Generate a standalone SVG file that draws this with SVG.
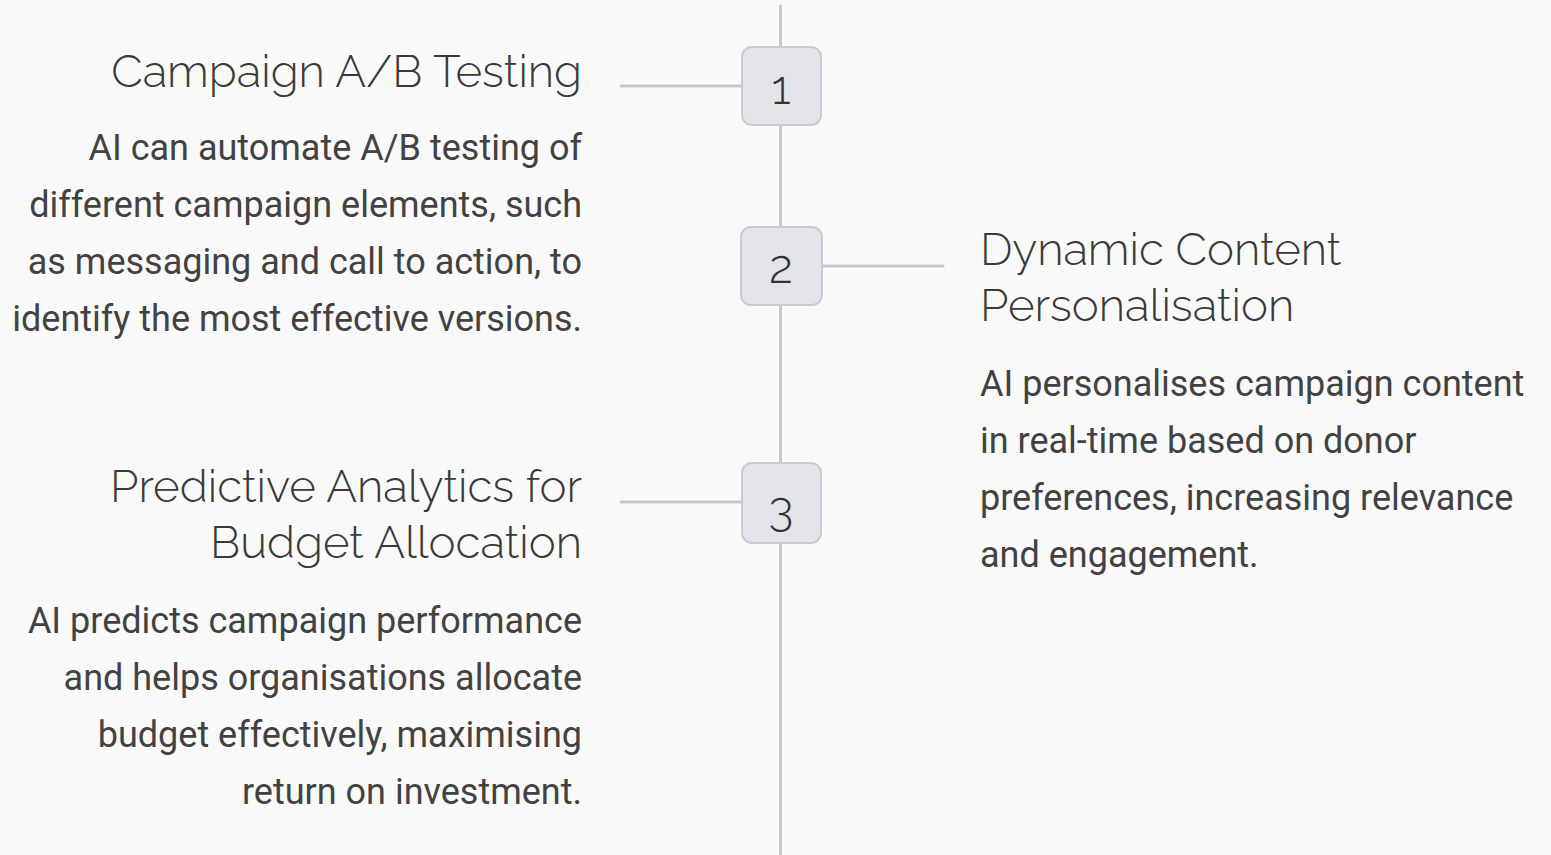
<svg xmlns="http://www.w3.org/2000/svg" width="1551" height="855" viewBox="0 0 1551 855">
<style>
.bg{fill:#f9f9f9}
.line{stroke:#c7c6ce;stroke-width:3;fill:none;stroke-linecap:round}
.box{fill:#e3e3ea;stroke:#cbcad2;stroke-width:2}
.num{font-family:Raleway,Lato,"Open Sans",sans-serif;font-weight:300;font-size:47px;fill:#333;text-anchor:middle}
.title{font-family:Raleway,Lato,"Open Sans",sans-serif;font-weight:300;font-size:45.6px;fill:#3a3a3a}
.body{font-family:Roboto,"Liberation Sans",sans-serif;font-size:36px;fill:#424242}
.r{text-anchor:end}
</style>
<rect class="bg" x="0" y="0" width="1551" height="855"/>
<g id="connectors">
<line class="line" x1="780.5" y1="6" x2="780.5" y2="855"/>
<line class="line" x1="621" y1="86" x2="742" y2="86"/>
<line class="line" x1="822" y1="266" x2="943" y2="266"/>
<line class="line" x1="621" y1="502" x2="742" y2="502"/>
</g>
<g id="node1">
<rect class="box" x="742" y="47" width="79" height="78" rx="10"/>
<text class="num" x="781" y="104">1</text>
<text class="title r" x="582" y="87">Campaign A/B Testing</text>
<text class="body r" x="582" y="160">AI can automate A/B testing of</text>
<text class="body r" x="582" y="217">different campaign elements, such</text>
<text class="body r" x="582" y="274">as messaging and call to action, to</text>
<text class="body r" x="582" y="331">identify the most effective versions.</text>
</g>
<g id="node2">
<rect class="box" x="741" y="227" width="81" height="78" rx="10"/>
<text class="num" x="781" y="283">2</text>
<text class="title" x="980" y="265">Dynamic Content</text>
<text class="title" x="980" y="321">Personalisation</text>
<text class="body" x="980" y="396">AI personalises campaign content</text>
<text class="body" x="980" y="453">in real-time based on donor</text>
<text class="body" x="980" y="510">preferences, increasing relevance</text>
<text class="body" x="980" y="567">and engagement.</text>
</g>
<g id="node3">
<rect class="box" x="742" y="463" width="79" height="80" rx="10"/>
<text class="num" x="781" y="525">3</text>
<text class="title r" x="582" y="502">Predictive Analytics for</text>
<text class="title r" x="582" y="558">Budget Allocation</text>
<text class="body r" x="582" y="633">AI predicts campaign performance</text>
<text class="body r" x="582" y="690">and helps organisations allocate</text>
<text class="body r" x="582" y="747">budget effectively, maximising</text>
<text class="body r" x="582" y="804">return on investment.</text>
</g>
</svg>
